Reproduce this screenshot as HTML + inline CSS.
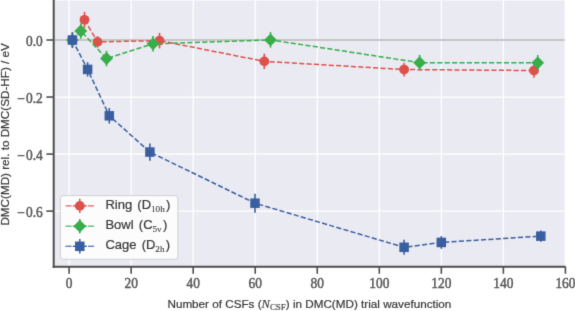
<!DOCTYPE html>
<html><head><meta charset="utf-8"><style>
html,body{margin:0;padding:0;background:#fff;}
body{width:575px;height:311px;overflow:hidden;}
svg{display:block;}
.tk{font-family:"Liberation Serif",serif;font-size:13.4px;fill:#585858;stroke:#585858;stroke-width:0.45px;}
.lg{font-family:"Liberation Sans",sans-serif;font-size:13px;fill:#3a3a3a;stroke:#3a3a3a;stroke-width:0.22px;}
.sb{font-family:"Liberation Serif",serif;font-size:9.2px;stroke-width:0.1px;}
.lb{font-family:"Liberation Sans",sans-serif;font-size:11.7px;fill:#3a3a3a;stroke:#3a3a3a;stroke-width:0.22px;}
.it{font-family:"Liberation Serif",serif;font-style:italic;font-size:12.5px;stroke-width:0.2px;}
.sbl{font-family:"Liberation Serif",serif;font-size:8.9px;stroke-width:0.15px;}
</style></head><body>
<svg width="575" height="311" viewBox="0 0 575 311">
<defs><filter id="bf" x="-20" y="-20" width="615" height="351" filterUnits="userSpaceOnUse" color-interpolation-filters="sRGB"><feConvolveMatrix order="3" kernelMatrix="0.01832 0.13534 0.01832 0.13534 1.00000 0.13534 0.01832 0.13534 0.01832" edgeMode="duplicate"/></filter></defs>
<g filter="url(#bf)">
<rect x="-20" y="-20" width="615" height="351" fill="#ffffff"/>
<rect x="53.7" y="0.5" width="511.00" height="266.30" fill="#eaeaf2"/>
<line x1="69.10" y1="0.5" x2="69.10" y2="266.8" stroke="#ffffff" stroke-width="1.3"/>
<line x1="131.14" y1="0.5" x2="131.14" y2="266.8" stroke="#ffffff" stroke-width="1.3"/>
<line x1="193.18" y1="0.5" x2="193.18" y2="266.8" stroke="#ffffff" stroke-width="1.3"/>
<line x1="255.22" y1="0.5" x2="255.22" y2="266.8" stroke="#ffffff" stroke-width="1.3"/>
<line x1="317.26" y1="0.5" x2="317.26" y2="266.8" stroke="#ffffff" stroke-width="1.3"/>
<line x1="379.30" y1="0.5" x2="379.30" y2="266.8" stroke="#ffffff" stroke-width="1.3"/>
<line x1="441.34" y1="0.5" x2="441.34" y2="266.8" stroke="#ffffff" stroke-width="1.3"/>
<line x1="503.38" y1="0.5" x2="503.38" y2="266.8" stroke="#ffffff" stroke-width="1.3"/>
<line x1="53.7" y1="40.00" x2="564.7" y2="40.00" stroke="#ffffff" stroke-width="1.3"/>
<line x1="53.7" y1="97.04" x2="564.7" y2="97.04" stroke="#ffffff" stroke-width="1.3"/>
<line x1="53.7" y1="154.08" x2="564.7" y2="154.08" stroke="#ffffff" stroke-width="1.3"/>
<line x1="53.7" y1="211.12" x2="564.7" y2="211.12" stroke="#ffffff" stroke-width="1.3"/>
<line x1="53.7" y1="40.00" x2="564.7" y2="40.00" stroke="#b4b4b8" stroke-width="1.6"/>
<path d="M84.50,19.83 L97.52,41.89 L159.52,40.60 L264.30,61.37 L404.11,69.54 L534.00,70.54" fill="none" stroke="#de514b" stroke-width="1.5" stroke-dasharray="5.1 2.3"/>
<line x1="84.50" y1="11.81" x2="84.50" y2="27.85" stroke="#de514b" stroke-width="1.6"/>
<circle cx="84.50" cy="19.83" r="4.9" fill="#de514b"/>
<line x1="97.52" y1="36.16" x2="97.52" y2="47.62" stroke="#de514b" stroke-width="1.6"/>
<circle cx="97.52" cy="41.89" r="4.9" fill="#de514b"/>
<line x1="159.52" y1="32.87" x2="159.52" y2="48.34" stroke="#de514b" stroke-width="1.6"/>
<circle cx="159.52" cy="40.60" r="4.9" fill="#de514b"/>
<line x1="264.30" y1="53.64" x2="264.30" y2="69.11" stroke="#de514b" stroke-width="1.6"/>
<circle cx="264.30" cy="61.37" r="4.9" fill="#de514b"/>
<line x1="404.11" y1="62.66" x2="404.11" y2="76.42" stroke="#de514b" stroke-width="1.6"/>
<circle cx="404.11" cy="69.54" r="4.9" fill="#de514b"/>
<line x1="534.00" y1="63.38" x2="534.00" y2="77.70" stroke="#de514b" stroke-width="1.6"/>
<circle cx="534.00" cy="70.54" r="4.9" fill="#de514b"/>
<path d="M72.41,40.03 L80.78,31.01 L106.51,58.51 L153.01,43.81 L270.50,39.89 L419.61,62.66 L537.72,62.81" fill="none" stroke="#37ae4a" stroke-width="1.5" stroke-dasharray="5.1 2.3"/>
<line x1="72.41" y1="32.29" x2="72.41" y2="47.77" stroke="#37ae4a" stroke-width="1.6"/>
<path d="M72.41,33.63 L78.81,40.03 L72.41,46.43 L66.01,40.03 Z" fill="#37ae4a"/>
<line x1="80.78" y1="23.27" x2="80.78" y2="38.74" stroke="#37ae4a" stroke-width="1.6"/>
<path d="M80.78,24.61 L87.18,31.01 L80.78,37.41 L74.38,31.01 Z" fill="#37ae4a"/>
<line x1="106.51" y1="50.77" x2="106.51" y2="66.24" stroke="#37ae4a" stroke-width="1.6"/>
<path d="M106.51,52.11 L112.91,58.51 L106.51,64.91 L100.11,58.51 Z" fill="#37ae4a"/>
<line x1="153.01" y1="36.08" x2="153.01" y2="51.55" stroke="#37ae4a" stroke-width="1.6"/>
<path d="M153.01,37.41 L159.41,43.81 L153.01,50.21 L146.61,43.81 Z" fill="#37ae4a"/>
<line x1="270.50" y1="32.15" x2="270.50" y2="47.62" stroke="#37ae4a" stroke-width="1.6"/>
<path d="M270.50,33.49 L276.90,39.89 L270.50,46.29 L264.10,39.89 Z" fill="#37ae4a"/>
<line x1="419.61" y1="54.93" x2="419.61" y2="70.40" stroke="#37ae4a" stroke-width="1.6"/>
<path d="M419.61,56.26 L426.01,62.66 L419.61,69.06 L413.21,62.66 Z" fill="#37ae4a"/>
<line x1="537.72" y1="55.07" x2="537.72" y2="70.54" stroke="#37ae4a" stroke-width="1.6"/>
<path d="M537.72,56.41 L544.12,62.81 L537.72,69.21 L531.32,62.81 Z" fill="#37ae4a"/>
<path d="M72.41,40.03 L87.60,69.40 L109.30,115.81 L149.91,152.05 L255.00,203.19 L404.11,247.31 L441.31,242.44 L540.82,236.14" fill="none" stroke="#3a5fa0" stroke-width="1.5" stroke-dasharray="5.1 2.3"/>
<line x1="72.41" y1="32.29" x2="72.41" y2="47.77" stroke="#3a5fa0" stroke-width="1.6"/>
<rect x="67.66" y="35.28" width="9.5" height="9.5" fill="#3a5fa0"/>
<line x1="87.60" y1="62.23" x2="87.60" y2="76.56" stroke="#3a5fa0" stroke-width="1.6"/>
<rect x="82.85" y="64.65" width="9.5" height="9.5" fill="#3a5fa0"/>
<line x1="109.30" y1="108.07" x2="109.30" y2="123.54" stroke="#3a5fa0" stroke-width="1.6"/>
<rect x="104.55" y="111.06" width="9.5" height="9.5" fill="#3a5fa0"/>
<line x1="149.91" y1="143.46" x2="149.91" y2="160.65" stroke="#3a5fa0" stroke-width="1.6"/>
<rect x="145.16" y="147.30" width="9.5" height="9.5" fill="#3a5fa0"/>
<line x1="255.00" y1="193.74" x2="255.00" y2="212.65" stroke="#3a5fa0" stroke-width="1.6"/>
<rect x="250.25" y="198.44" width="9.5" height="9.5" fill="#3a5fa0"/>
<line x1="404.11" y1="239.86" x2="404.11" y2="254.76" stroke="#3a5fa0" stroke-width="1.6"/>
<rect x="399.36" y="242.56" width="9.5" height="9.5" fill="#3a5fa0"/>
<line x1="441.31" y1="236.14" x2="441.31" y2="248.74" stroke="#3a5fa0" stroke-width="1.6"/>
<rect x="436.56" y="237.69" width="9.5" height="9.5" fill="#3a5fa0"/>
<line x1="540.82" y1="230.41" x2="540.82" y2="241.87" stroke="#3a5fa0" stroke-width="1.6"/>
<rect x="536.07" y="231.39" width="9.5" height="9.5" fill="#3a5fa0"/>
<line x1="53.7" y1="-5" x2="53.7" y2="267.8" stroke="#4e4e4e" stroke-width="2"/>
<line x1="52.7" y1="266.8" x2="565.7" y2="266.8" stroke="#4e4e4e" stroke-width="2"/>
<line x1="69.10" y1="266.8" x2="69.10" y2="273.8" stroke="#4e4e4e" stroke-width="1.6"/>
<text transform="translate(69.10,287.8) scale(1,1.16)" text-anchor="middle" class="tk">0</text>
<line x1="131.14" y1="266.8" x2="131.14" y2="273.8" stroke="#4e4e4e" stroke-width="1.6"/>
<text transform="translate(131.14,287.8) scale(1,1.16)" text-anchor="middle" class="tk">20</text>
<line x1="193.18" y1="266.8" x2="193.18" y2="273.8" stroke="#4e4e4e" stroke-width="1.6"/>
<text transform="translate(193.18,287.8) scale(1,1.16)" text-anchor="middle" class="tk">40</text>
<line x1="255.22" y1="266.8" x2="255.22" y2="273.8" stroke="#4e4e4e" stroke-width="1.6"/>
<text transform="translate(255.22,287.8) scale(1,1.16)" text-anchor="middle" class="tk">60</text>
<line x1="317.26" y1="266.8" x2="317.26" y2="273.8" stroke="#4e4e4e" stroke-width="1.6"/>
<text transform="translate(317.26,287.8) scale(1,1.16)" text-anchor="middle" class="tk">80</text>
<line x1="379.30" y1="266.8" x2="379.30" y2="273.8" stroke="#4e4e4e" stroke-width="1.6"/>
<text transform="translate(379.30,287.8) scale(1,1.16)" text-anchor="middle" class="tk">100</text>
<line x1="441.34" y1="266.8" x2="441.34" y2="273.8" stroke="#4e4e4e" stroke-width="1.6"/>
<text transform="translate(441.34,287.8) scale(1,1.16)" text-anchor="middle" class="tk">120</text>
<line x1="503.38" y1="266.8" x2="503.38" y2="273.8" stroke="#4e4e4e" stroke-width="1.6"/>
<text transform="translate(503.38,287.8) scale(1,1.16)" text-anchor="middle" class="tk">140</text>
<line x1="565.42" y1="266.8" x2="565.42" y2="273.8" stroke="#4e4e4e" stroke-width="1.6"/>
<text transform="translate(565.42,287.8) scale(1,1.16)" text-anchor="middle" class="tk">160</text>
<line x1="46.400000000000006" y1="40.00" x2="53.7" y2="40.00" stroke="#4e4e4e" stroke-width="1.6"/>
<text transform="translate(42.7,45.90) scale(1,1.16)" text-anchor="end" class="tk">0.0</text>
<line x1="46.400000000000006" y1="97.04" x2="53.7" y2="97.04" stroke="#4e4e4e" stroke-width="1.6"/>
<text transform="translate(42.7,102.94) scale(1,1.16)" text-anchor="end" class="tk"><tspan dy="0.9">−</tspan><tspan dx="1.1" dy="-0.9">0.2</tspan></text>
<line x1="46.400000000000006" y1="154.08" x2="53.7" y2="154.08" stroke="#4e4e4e" stroke-width="1.6"/>
<text transform="translate(42.7,159.98) scale(1,1.16)" text-anchor="end" class="tk"><tspan dy="0.9">−</tspan><tspan dx="1.1" dy="-0.9">0.4</tspan></text>
<line x1="46.400000000000006" y1="211.12" x2="53.7" y2="211.12" stroke="#4e4e4e" stroke-width="1.6"/>
<text transform="translate(42.7,217.02) scale(1,1.16)" text-anchor="end" class="tk"><tspan dy="0.9">−</tspan><tspan dx="1.1" dy="-0.9">0.6</tspan></text>
<rect x="60.4" y="195.6" width="117.50" height="63.70" rx="3" ry="3" fill="#fcfcfd" stroke="#d0d0d4" stroke-width="1"/>
<line x1="65.5" y1="205.90" x2="71.6" y2="205.90" stroke="#de514b" stroke-width="1.4" stroke-opacity="0.8"/>
<line x1="88.0" y1="205.90" x2="94.1" y2="205.90" stroke="#de514b" stroke-width="1.4" stroke-opacity="0.8"/>
<line x1="72.8" y1="205.90" x2="86.8" y2="205.90" stroke="#de514b" stroke-width="1.4"/>
<line x1="79.8" y1="198.70" x2="79.8" y2="213.10" stroke="#de514b" stroke-width="1.5"/>
<circle cx="79.80" cy="205.90" r="4.9" fill="#de514b"/>
<text x="105.4" y="209.00" class="lg">Ring<tspan dx="1.6"> (D</tspan><tspan class="sb" dx="-0.1" dy="2.8">10h</tspan><tspan dx="1.3" dy="-2.8">)</tspan></text>
<line x1="65.5" y1="226.20" x2="71.6" y2="226.20" stroke="#37ae4a" stroke-width="1.4" stroke-opacity="0.8"/>
<line x1="88.0" y1="226.20" x2="94.1" y2="226.20" stroke="#37ae4a" stroke-width="1.4" stroke-opacity="0.8"/>
<line x1="72.8" y1="226.20" x2="86.8" y2="226.20" stroke="#37ae4a" stroke-width="1.4"/>
<line x1="79.8" y1="219.00" x2="79.8" y2="233.40" stroke="#37ae4a" stroke-width="1.5"/>
<path d="M79.80,219.80 L86.20,226.20 L79.80,232.60 L73.40,226.20 Z" fill="#37ae4a"/>
<text x="105.4" y="228.70" class="lg">Bowl<tspan dx="1.6"> (C</tspan><tspan class="sb" dx="-0.1" dy="2.8">5v</tspan><tspan dx="1.3" dy="-2.8">)</tspan></text>
<line x1="65.5" y1="246.30" x2="71.6" y2="246.30" stroke="#3a5fa0" stroke-width="1.4" stroke-opacity="0.8"/>
<line x1="88.0" y1="246.30" x2="94.1" y2="246.30" stroke="#3a5fa0" stroke-width="1.4" stroke-opacity="0.8"/>
<line x1="72.8" y1="246.30" x2="86.8" y2="246.30" stroke="#3a5fa0" stroke-width="1.4"/>
<line x1="79.8" y1="239.10" x2="79.8" y2="253.50" stroke="#3a5fa0" stroke-width="1.5"/>
<rect x="75.05" y="241.55" width="9.5" height="9.5" fill="#3a5fa0"/>
<text x="105.4" y="248.70" class="lg">Cage<tspan dx="1.6"> (D</tspan><tspan class="sb" dx="-0.1" dy="2.8">2h</tspan><tspan dx="1.3" dy="-2.8">)</tspan></text>
<text x="309.4" y="308" text-anchor="middle" class="lb">Number of CSFs (<tspan class="it">N</tspan><tspan class="sbl" dy="1.8">CSF</tspan><tspan dy="-1.8">) in DMC(MD) trial wavefunction</tspan></text>
<text transform="translate(8.6,134.4) rotate(-90)" text-anchor="middle" class="lb">DMC(MD) rel. to DMC(SD-HF) / eV</text>
</g></svg>
</body></html>
